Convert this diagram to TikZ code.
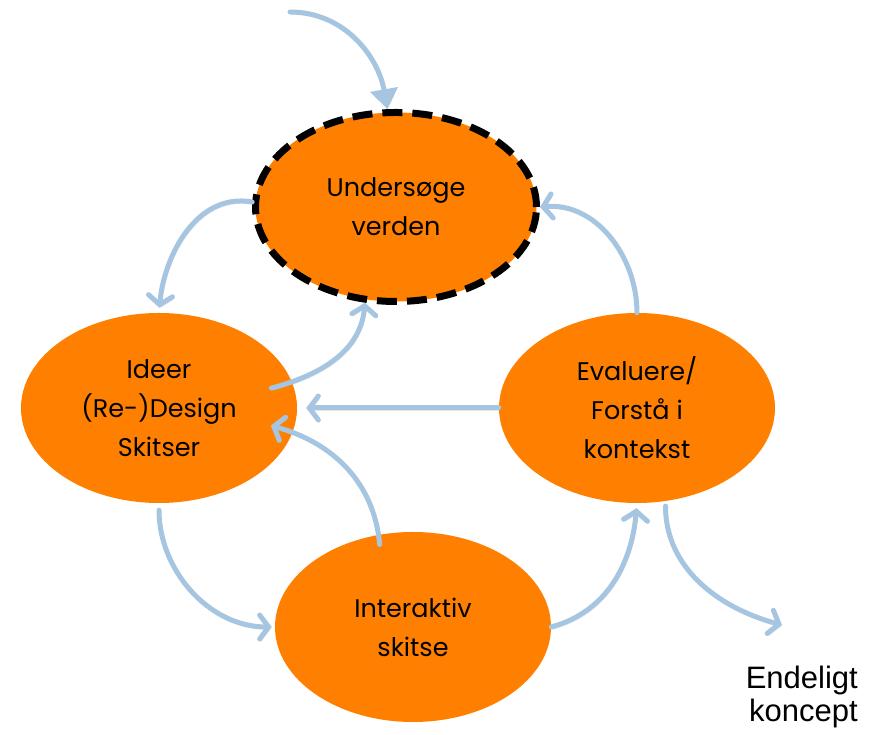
\documentclass[tikz,border=0pt]{standalone}
\usepackage{fontspec}
\setmainfont{Poppins}
\newfontfamily\arialfont{Liberation Sans}
\usepackage{tikz}
\usetikzlibrary{shapes.geometric}
\usetikzlibrary{arrows.meta}
\usetikzlibrary{calc}
\usetikzlibrary{math}
\definecolor{faseorange}{RGB}{255,128,0}
\definecolor{pilblaa}{RGB}{166,197,224}
\tikzstyle{fase} = [ellipse, fill=faseorange, text=black, align=center, inner sep=0pt, font=\fontsize{25.5}{39}\selectfont]
\tikzstyle{pil} = [draw=pilblaa, line width=5pt, line cap=round, -{Straight Barb[length=9pt, width=24pt, line cap=round]},
  preaction={draw=black!40, opacity=0.25, transform canvas={xshift=1.5pt, yshift=-2.5pt}}]

\begin{document}
\begin{tikzpicture}[x=1pt, y=1pt]

  \tikzmath{\bw = 276; \bh = 190;}
  \useasboundingbox (0,0) rectangle (881,735);

  % faser
  \node[fase, draw=black, line width=7pt, dash pattern=on 20pt off 10pt,
    minimum width=281pt, minimum height=189pt] (undersoege) at (396,528) {Undersøge\\verden};
  \node[fase, minimum width=\bw pt, minimum height=\bh pt] (ideer) at (159,327) {Ideer\\(Re-)Design\\Skitser};
  \node[fase, minimum width=\bw pt, minimum height=\bh pt] (evaluere) at (637,327) {Evaluere/\\Forstå i\\kontekst};
  \node[fase, minimum width=\bw pt, minimum height=\bh pt] (interaktiv) at (413,108) {Interaktiv\\skitse};

  \node[anchor=north east, inner sep=0pt, align=right, font=\arialfont\fontsize{31}{33}\selectfont]
    (endeligt) at (858,69) {Endeligt\\koncept};

  \coordinate (start) at (290,723);
  \coordinate (slut) at (782,110);

  % pile
  \draw[pil, -{Triangle[length=20pt, width=27pt]}] (start) to[out=0, in=100] (undersoege.95);
  \draw[pil, shorten >=5pt] (undersoege.178) to[out=170, in=85] (ideer.north);
  \draw[pil] ($(ideer.center)!0.84!(ideer.10)$) to[out=15, in=-95] (undersoege.252);
  \draw[pil, shorten >=9pt] (evaluere.west) -- (ideer.east);
  \draw[pil] ($(interaktiv.center)!0.9!(interaktiv.112)$) to[out=95, in=-15] ($(ideer.center)!0.83!(ideer.-9)$);
  \draw[pil, shorten <=7pt, shorten >=3pt] (ideer.south) to[out=-90, in=180] (interaktiv.west);
  \draw[pil, shorten >=5pt] (interaktiv.east) to[out=15, in=-95] (evaluere.south);
  \draw[pil] (evaluere.north) to[out=90, in=5] (undersoege.east);
  \draw[pil, shorten <=5pt] (evaluere.-73) to[out=-90, in=165] (slut);

\end{tikzpicture}
\end{document}
